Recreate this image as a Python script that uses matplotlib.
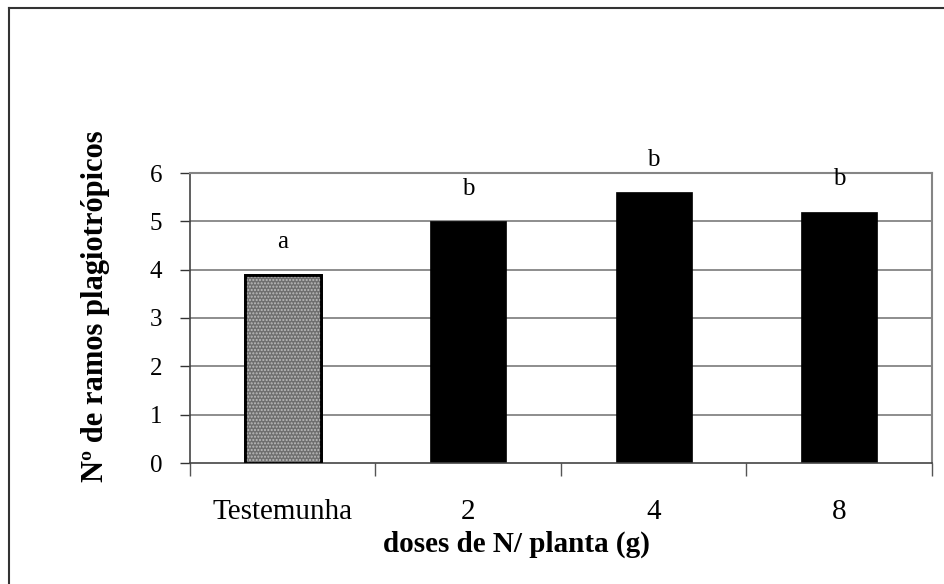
import numpy as np
import matplotlib
matplotlib.use("Agg")
import matplotlib.pyplot as plt
from matplotlib.lines import Line2D

categories = ["Testemunha", "2", "4", "8"]
values = [3.9, 5.0, 5.6, 5.2]
letters = ["a", "b", "b", "b"]
yticks = [0, 1, 2, 3, 4, 5, 6]

plt.rcParams['font.family'] = ['Liberation Serif', 'DejaVu Serif']

fig = plt.figure(figsize=(9.45, 5.84), dpi=100)
ax = fig.add_axes([190 / 945, 1 - 463 / 584, 742 / 945, 290 / 584])

x = np.arange(len(categories))
grid_col = '#858585'

# gridlines
for t in yticks[1:]:
    ax.axhline(t, color=grid_col, lw=1.3, zorder=0)

# control bar: dithered gray, the rest solid black
ax.bar(x[0], values[0], width=0.41, color='#6f6f6f', edgecolor='black', lw=2, zorder=2)
ax.bar(x[0], values[0], width=0.41, color='none', edgecolor='#bdbdbd', hatch='.....', lw=0, zorder=3)
ax.bar(x[0], values[0], width=0.41, color='none', edgecolor='black', lw=2, zorder=4)
ax.bar(x[1:], values[1:], width=0.41, color='black', edgecolor='black', lw=0.5, zorder=2)

# significance letters
for xi, v, l in zip(x, values, letters):
    ax.text(xi, v + 0.55, l, ha='center', va='baseline', fontsize=18, clip_on=False)

ax.set_xlim(-0.5, len(categories) - 0.5)
ax.set_ylim(0, 6)
ax.set_yticks(yticks)
ax.tick_params(axis='y', labelsize=18, length=7, width=1, color='#333333', pad=13, direction='out')

# ticks on category boundaries, labels at centres
ax.set_xticks(np.arange(len(categories) + 1) - 0.5)
ax.set_xticklabels([])
ax.set_xticks(x, minor=True)
ax.set_xticklabels(categories, minor=True, fontsize=21)
ax.tick_params(axis='x', which='major', length=9, width=1, color='#555555')
ax.tick_params(axis='x', which='minor', length=0, pad=26)

for side in ['top', 'right']:
    ax.spines[side].set_color(grid_col)
    ax.spines[side].set_linewidth(1.5)
for side in ['left', 'bottom']:
    ax.spines[side].set_color('#444444')
    ax.spines[side].set_linewidth(1.2)

ax.set_xlabel("doses de N/ planta (g)", fontsize=21, fontweight='bold', va='top')
ax.xaxis.set_label_coords(0.44, (463 - 531) / 290)
ax.set_ylabel("Nº de ramos plagiotrópicos", fontsize=22, fontweight='bold', va='center')
ax.yaxis.set_label_coords((96 - 190) / 742, (463 - 306) / 290)

# outer frame (top and left only)
fig.add_artist(Line2D([9 / 945, 1], [1 - 8 / 584, 1 - 8 / 584], transform=fig.transFigure, color='#333333', lw=1.5))
fig.add_artist(Line2D([9 / 945, 9 / 945], [0, 1 - 8 / 584], transform=fig.transFigure, color='#333333', lw=1.5))

fig.savefig("out.png", dpi=100)
